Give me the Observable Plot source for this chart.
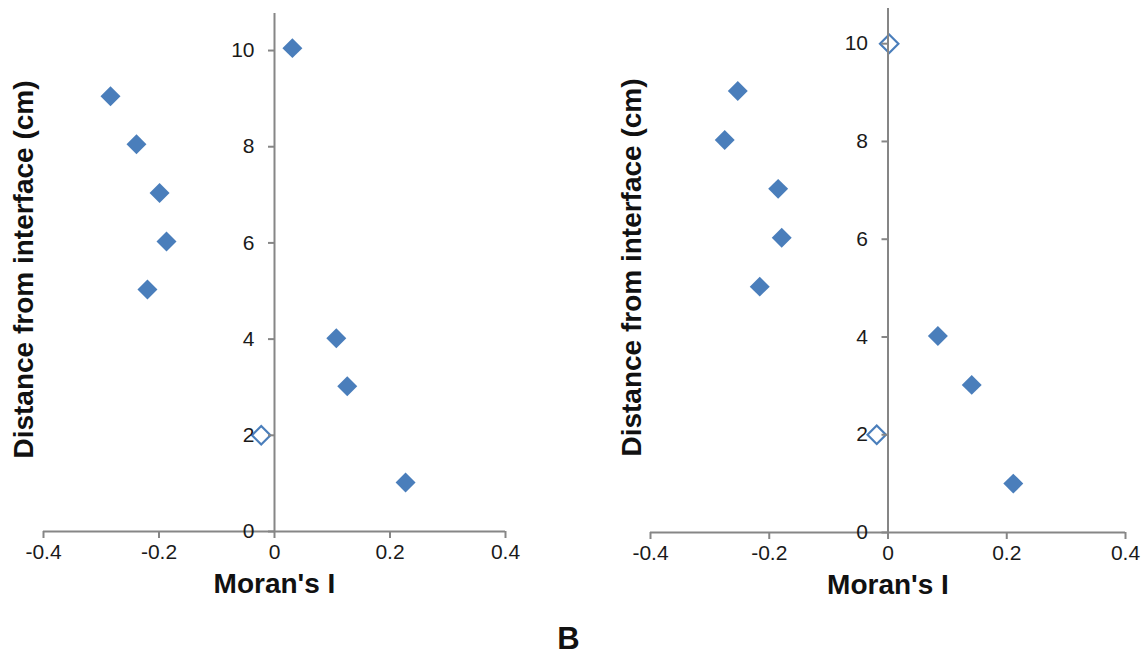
<!DOCTYPE html>
<html><head><meta charset="utf-8">
<script src="https://cdn.jsdelivr.net/npm/d3@7"></script>
<script src="https://cdn.jsdelivr.net/npm/@observablehq/plot@0.6"></script>
<style>
body{margin:0;background:#fff;font-family:"Liberation Sans",Arial,sans-serif;}
#wrap{position:relative;width:1141px;height:655px;overflow:hidden;}
#left{position:absolute;left:0;top:0}
#right{position:absolute;left:575px;top:0}
#panel{position:absolute;left:0;width:1137px;top:624px;height:30px;line-height:30px;text-align:center;font-weight:bold;font-size:31px;color:#111;}
</style></head><body>
<div id="wrap"><div id="left"></div><div id="right"></div><div id="panel"></div></div>
<script>
// ---- data ----
const depthA = [10.05, 9.05, 8.05, 7.04, 6.03, 5.03, 4.02, 3.02, 2.0, 1.02];
const moranA = [0.031, -0.284, -0.239, -0.199, -0.187, -0.220, 0.107, 0.126, -0.023, 0.227];
const openA  = [false, false, false, false, false, false, false, false, true, false];
const depthB = [10, 9.03, 8.03, 7.03, 6.03, 5.03, 4.02, 3.02, 2.0, 1.0];
const moranB = [0.002, -0.253, -0.275, -0.185, -0.179, -0.216, 0.084, 0.141, -0.019, 0.211];
const openB  = [true, false, false, false, false, false, false, false, true, false];
const xTicks = [-0.4, -0.2, 0, 0.2, 0.4];
const yTicks = [0, 2, 4, 6, 8, 10];
const xTitle = "Moran's I";
const yTitle = "Distance from interface (cm)";
const panelLabel = "B";

const blue = "#4a7ebb";
const gray = "#868686";
const font = "Liberation Sans, Arial, sans-serif";

function panel(depth, values, open, cfg) {
  const rows = depth.map((d, i) => ({y: d, x: values[i], open: open[i]}));
  return Plot.plot({
    width: cfg.width, height: 625,
    marginLeft: cfg.marginLeft, marginRight: cfg.marginRight,
    marginTop: cfg.marginTop, marginBottom: 625 - cfg.zeroY,
    style: {fontFamily: font, background: "white", overflow: "visible"},
    x: {domain: [-0.4, 0.4], axis: null},
    y: {domain: [0, cfg.yMax], axis: null},
    marks: [
      Plot.dot(rows.filter(r => !r.open), {x: "x", y: "y", symbol: "diamond2", r: 9, fill: blue, stroke: "none"}),
      Plot.dot(rows.filter(r => r.open), {x: "x", y: "y", symbol: "diamond2", r: 8.3, fill: "white", stroke: blue, strokeWidth: 2.2}),
      Plot.ruleY([0], {stroke: gray, strokeWidth: 2}),
      Plot.ruleX([0], {stroke: gray, strokeWidth: 2}),
      Plot.axisX({ticks: xTicks, tickSize: 7, tickPadding: 6, stroke: gray, strokeWidth: 2, fill: "#1a1a1a",
                  fontSize: 21, tickFormat: d => String(d), label: null}),
      Plot.ruleY(yTicks, {y: d => d, x1: 0, x2: 0, insetLeft: -6, stroke: gray, strokeWidth: 2}),
      Plot.text(yTicks, {y: d => d, x: 0, text: d => String(d), textAnchor: "end", dx: -20, fontSize: 21, fill: "#1a1a1a"}),
      Plot.text([xTitle], {frameAnchor: "bottom", dy: 61, fontSize: 28, fontWeight: "bold", fill: "#111"}),
      Plot.text([yTitle], {frameAnchor: "left", textAnchor: "middle", rotate: -90, dx: cfg.titleDx, dy: cfg.titleDy, fontSize: 28, fontWeight: "bold", fill: "#111"})
    ]
  });
}

document.getElementById("left").append(panel(depthA, moranA, openA, {
  width: 575, marginLeft: 43, marginRight: 70, marginTop: 13, zeroY: 531, yMax: 10.77, titleDx: -19, titleDy: -3
}));
document.getElementById("right").append(panel(depthB, moranB, openB, {
  width: 566, marginLeft: 75, marginRight: 16, marginTop: 8, zeroY: 532, yMax: 10.72, titleDx: -18, titleDy: -3
}));
document.getElementById("panel").textContent = panelLabel;
</script>
</body></html>
